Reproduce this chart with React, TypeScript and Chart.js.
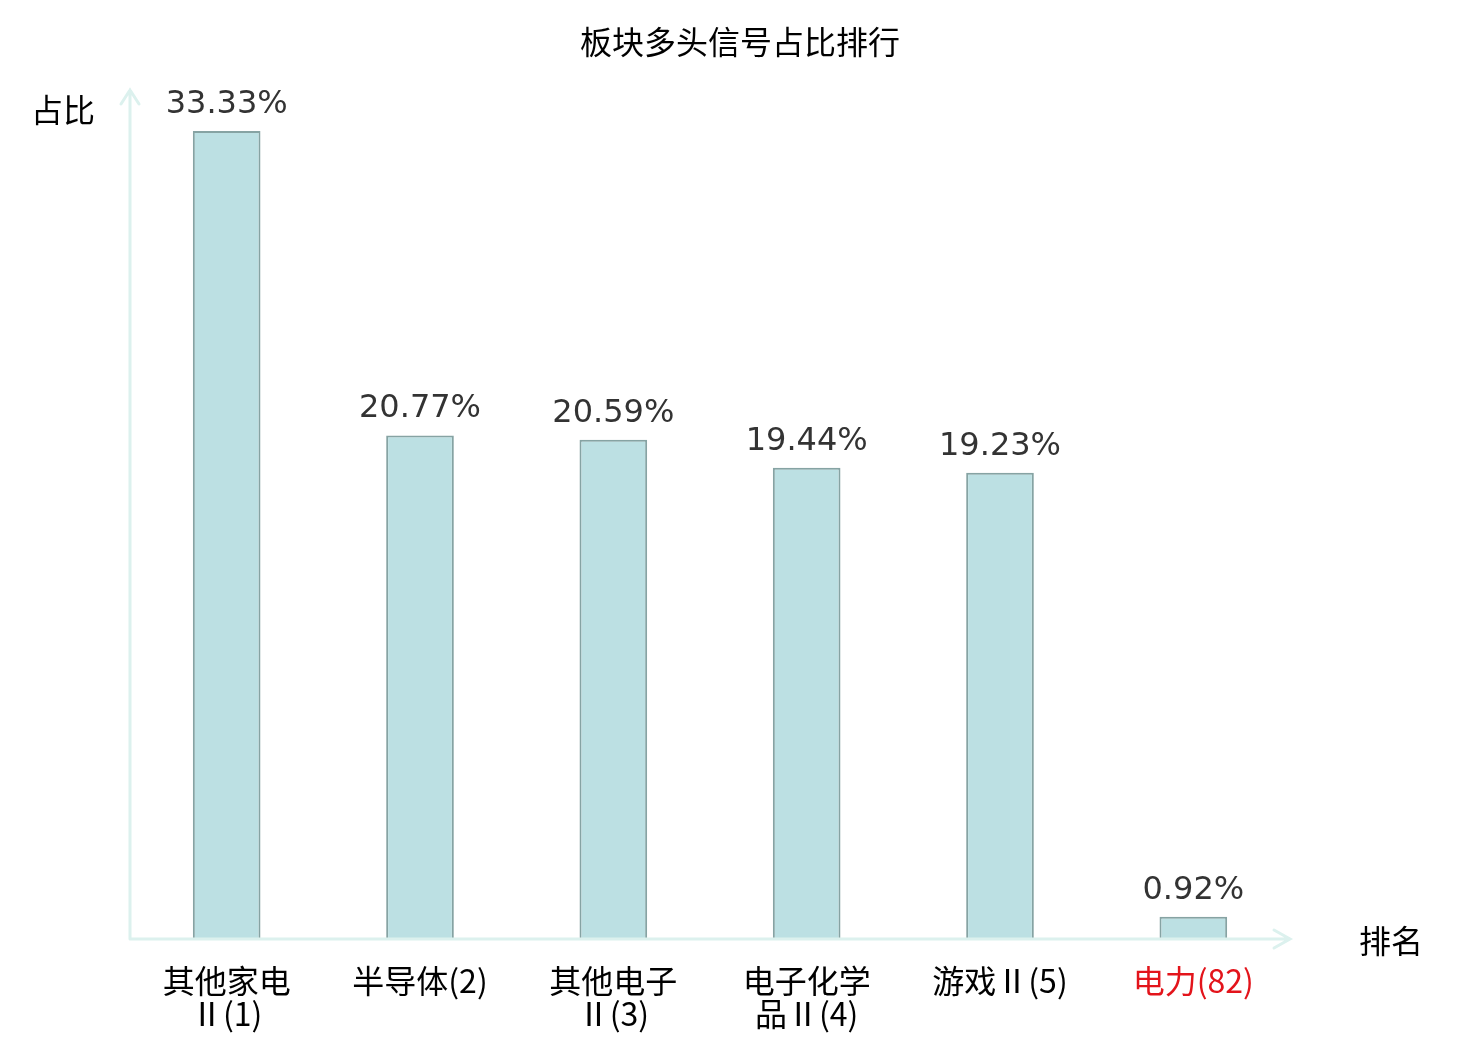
import { Chart, registerables, Plugin } from 'chart.js';
import { useEffect, useRef } from 'react';

Chart.register(...registerables);

const chartTitle = '板块多头信号占比排行';
const categories: (string | string[])[] = [
	['其他家电', 'Ⅱ(1)'],
	'半导体(2)',
	['其他电子', 'Ⅱ(3)'],
	['电子化学', '品Ⅱ(4)'],
	'游戏Ⅱ(5)',
	'电力(82)',
];
const shares = [33.33, 20.77, 20.59, 19.44, 19.23, 0.92];
const highlightIndex = 5;

const axisColor = '#dcf1ee';
const cjkFont = '"Noto Sans CJK SC", "DejaVu Sans", sans-serif';

// draws title, axis arrows, axis names and the value above each bar
const decorPlugin: Plugin<'bar'> = {
	id: 'decor',
	afterDatasetsDraw(chart) {
		const { ctx, chartArea, width } = chart;
		const { left, right, top, bottom } = chartArea;
		ctx.save();
		ctx.strokeStyle = axisColor;
		ctx.lineWidth = 3;
		ctx.lineCap = 'round';
		ctx.beginPath();
		ctx.moveTo(left, bottom);
		ctx.lineTo(left, top + 2);
		ctx.moveTo(left - 9, top + 16);
		ctx.lineTo(left, top + 2);
		ctx.lineTo(left + 9, top + 16);
		ctx.moveTo(left, bottom);
		ctx.lineTo(right, bottom);
		ctx.moveTo(right - 16, bottom - 9);
		ctx.lineTo(right, bottom);
		ctx.lineTo(right - 16, bottom + 9);
		ctx.stroke();

		ctx.fillStyle = '#000';
		ctx.font = `32px ${cjkFont}`;
		ctx.textAlign = 'center';
		ctx.textBaseline = 'middle';
		ctx.fillText(chartTitle, width / 2, 42);
		ctx.fillText('占比', left - 67, top + 22);
		ctx.fillText('排名', right + 101, bottom + 2);

		const meta = chart.getDatasetMeta(0);
		ctx.fillStyle = '#333';
		ctx.font = '32px "DejaVu Sans", sans-serif';
		ctx.textBaseline = 'alphabetic';
		meta.data.forEach((bar, i) => {
			ctx.fillText(shares[i].toFixed(2) + '%', bar.x, bar.y - 18);
		});
		ctx.restore();
	},
};

const App = () => {
	const canvasRef = useRef<HTMLCanvasElement | null>(null);

	useEffect(() => {
		document.body.style.margin = '0';
		if (!canvasRef.current) return;
		const chart = new Chart(canvasRef.current, {
			type: 'bar',
			data: {
				labels: categories,
				datasets: [
					{
						data: shares,
						backgroundColor: '#bce0e3',
						borderColor: '#86a3a3',
						borderWidth: 2,
						barPercentage: 0.35,
						categoryPercentage: 1,
					},
				],
			},
			options: {
				animation: false,
				responsive: true,
				maintainAspectRatio: false,
				layout: { padding: { left: 130, right: 190, top: 88, bottom: 0 } },
				plugins: {
					legend: { display: false },
					tooltip: { enabled: false },
				},
				scales: {
					x: {
						grid: { display: false, drawTicks: false },
						border: { display: false },
						afterFit: (scale) => {
							scale.height = 101;
						},
						ticks: {
							padding: 26,
							maxRotation: 0,
							autoSkip: false,
							color: (c) => (c.index === highlightIndex ? '#e3141b' : '#000'),
							font: { family: cjkFont, size: 32, weight: 'normal', lineHeight: 1.02 },
						},
					},
					y: {
						display: false,
						min: 0,
						max: 35.1,
					},
				},
			},
			plugins: [decorPlugin],
		});
		return () => chart.destroy();
	}, []);

	return (
		<div style={{ width: 1480, height: 1040, position: 'relative', background: '#fff' }}>
			<canvas ref={canvasRef}></canvas>
		</div>
	);
};

export default App;
